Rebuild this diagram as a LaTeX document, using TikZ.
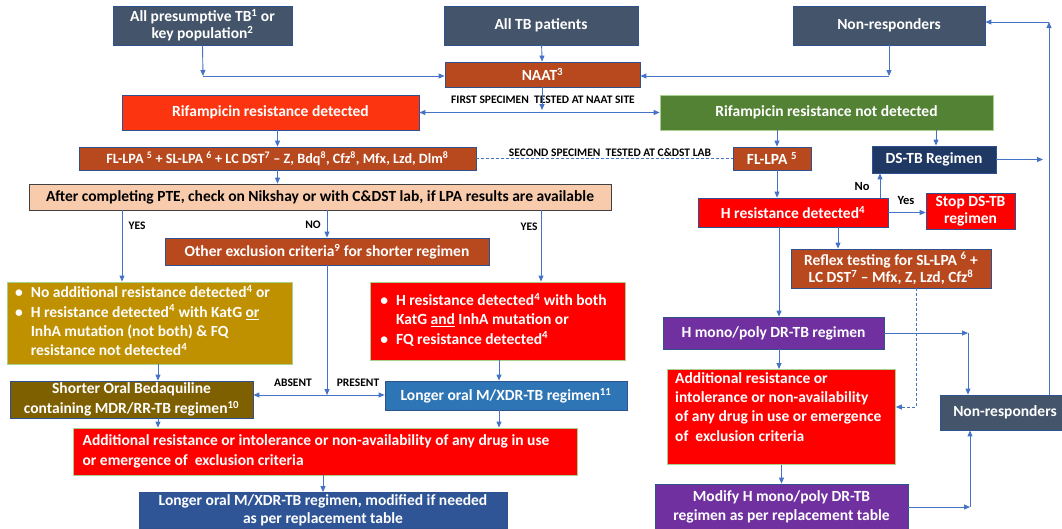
\documentclass[tikz,border=0pt]{standalone}
\usepackage{fontspec}
\setmainfont{Carlito}
\usetikzlibrary{arrows.meta, positioning}

\definecolor{slate}{RGB}{68,84,106}
\definecolor{rust}{RGB}{184,72,30}
\definecolor{rifred}{RGB}{252,52,16}
\definecolor{leaf}{RGB}{84,130,53}
\definecolor{navy}{RGB}{31,56,100}
\definecolor{peach}{RGB}{248,203,173}
\definecolor{gold}{RGB}{191,144,0}
\definecolor{olive}{RGB}{127,96,0}
\definecolor{alarm}{RGB}{255,0,0}
\definecolor{sky}{RGB}{46,117,182}
\definecolor{deepblue}{RGB}{47,85,151}
\definecolor{plum}{RGB}{112,48,160}
\definecolor{link}{RGB}{68,114,196}
\definecolor{edge}{RGB}{47,82,143}
\definecolor{mint}{RGB}{169,209,142}

\newcommand{\boxfont}{\fontsize{15.5}{19.3}\selectfont\bfseries}
\newcommand{\supr}[1]{\textsuperscript{#1}}

\begin{document}
\begin{tikzpicture}[x=1pt, y=-1pt,
    box/.style={draw=edge, line width=0.8pt, text=white, font=\boxfont, align=center, inner sep=1.5pt},
    greenedge/.style={draw=mint},
    arr/.style={draw=link, line width=0.9pt, -{Triangle[length=6pt,width=5pt]}},
    tag/.style={font=\fontsize{11.5}{13}\selectfont\bfseries, text=black, inner sep=1pt},
    yesno/.style={font=\fontsize{12.5}{14}\selectfont\bfseries, text=black, inner sep=1pt}]
    \useasboundingbox (0,0) rectangle (1062,528);

    % top row
    \node[box, fill=slate, minimum width=179pt, minimum height=39pt,
          font=\fontsize{15.5}{17}\selectfont\bfseries] (pres) at (202.5,25.5) {All presumptive TB\supr{1} or\\key population\supr{2}};
    \node[box, fill=slate, minimum width=194pt, minimum height=39pt] (allTB) at (541,25.5) {All TB patients};
    \node[box, fill=slate, minimum width=192pt, minimum height=39pt] (nonTop) at (889,25.5) {Non-responders};
    \node[box, fill=rust, minimum width=195pt, minimum height=25pt] (naat) at (542.5,74.5) {NAAT\supr{3}};

    % rifampicin results
    \node[box, fill=rifred, minimum width=297pt, minimum height=35pt] (rifD) at (270.5,112.5) {Rifampicin resistance detected};
    \node[box, greenedge, fill=leaf, minimum width=333pt, minimum height=35pt] (rifN) at (826.5,112.5) {Rifampicin resistance not detected};
    \node[tag] (first) at (543,100) {FIRST SPECIMEN\ \ TESTED AT NAAT SITE};

    % left branch
    \node[box, fill=rust, minimum width=397pt, minimum height=23pt,
          font=\fontsize{14.2}{17}\selectfont\bfseries] (lpa) at (277.5,158.5) {FL-LPA \supr{5} + SL-LPA \supr{6} + LC DST\supr{7} -- Z, Bdq\supr{8}, Cfz\supr{8}, Mfx, Lzd, Dlm\supr{8}};
    \node[tag] (second) at (610,153) {SECOND SPECIMEN\ \ TESTED AT C\&DST LAB};
    \node[box, draw=black!75, fill=peach, text=black, minimum width=582pt, minimum height=26pt] (pte) at (320,197) {After completing PTE, check on Nikshay or with C\&DST lab, if LPA results are available};
    \node[box, fill=rust, minimum width=324pt, minimum height=27pt] (other) at (327,251.5) {Other exclusion criteria\supr{9} for shorter regimen};
    \node[box, greenedge, fill=gold, minimum width=285pt, minimum height=82pt] (noAdd) at (149.5,323)
        {\begin{tabular}{@{}l@{\hspace{8pt}}l@{}}
         \textbullet & No additional resistance detected\supr{4} or\\
         \textbullet & H resistance detected\supr{4} with KatG \underline{or}\\
                     & InhA mutation (not both) \& FQ\\
                     & resistance not detected\supr{4}
         \end{tabular}\hspace*{14pt}};
    \node[box, greenedge, fill=alarm, minimum width=255pt, minimum height=78pt] (bothRes) at (497.5,321)
        {\begin{tabular}{@{}l@{\hspace{8pt}}l@{}}
         \textbullet & H resistance detected\supr{4} with both\\
                     & KatG \underline{and} InhA mutation or\\
         \textbullet & FQ resistance detected\supr{4}
         \end{tabular}\hspace*{8pt}};
    \node[box, fill=olive, minimum width=243pt, minimum height=37pt] (shortReg) at (131.5,399.5) {Shorter Oral Bedaquiline\\containing MDR/RR-TB regimen\supr{10}};
    \node[box, fill=sky, minimum width=242pt, minimum height=29pt] (longReg) at (506,395.5) {Longer oral M/XDR-TB regimen\supr{11}};
    \node[box, greenedge, fill=alarm, minimum width=504pt, minimum height=47pt, align=left] (addL) at (325,451.5)
        {Additional resistance or intolerance or non-availability of any drug in use\hspace*{18pt}\\or emergence of\ \ exclusion criteria};
    \node[box, fill=deepblue, minimum width=368pt, minimum height=36pt,
          font=\fontsize{15.5}{17.5}\selectfont\bfseries] (longMod) at (323,510.5) {Longer oral M/XDR-TB regimen, modified if needed\\as per replacement table};
    \node[tag] at (137,226) {YES};
    \node[tag] at (313,225) {NO};
    \node[tag] at (529,227) {YES};
    \node[tag] at (293,383) {ABSENT};
    \node[tag] at (358,383) {PRESENT};

    % right branch
    \node[box, fill=rust, minimum width=78pt, minimum height=23pt] (flR) at (772,158.5) {FL-LPA \supr{5}};
    \node[box, fill=navy, minimum width=124pt, minimum height=27pt] (dstb) at (934,159.5) {DS-TB Regimen};
    \node[box, fill=alarm, minimum width=190pt, minimum height=29pt] (hR) at (793,212.5) {H resistance detected\supr{4}};
    \node[box, fill=alarm, minimum width=89pt, minimum height=36pt,
          font=\fontsize{15.5}{17.5}\selectfont\bfseries] (stop) at (970.5,211) {Stop DS-TB\\regimen};
    \node[box, fill=rust, minimum width=200pt, minimum height=39pt,
          font=\fontsize{15.5}{17.5}\selectfont\bfseries] (reflex) at (891,268.5) {Reflex testing for SL-LPA \supr{6} +\\LC DST\supr{7} -- Mfx, Z, Lzd, Cfz\supr{8}};
    \node[box, fill=plum, minimum width=221pt, minimum height=32pt] (hmono) at (773.5,333) {H mono/poly DR-TB regimen};
    \node[box, greenedge, fill=alarm, minimum width=228pt, minimum height=95pt, anchor=north west] (addR) at (667,369) {};
    \node[text=white, font=\boxfont, align=left, anchor=north west, inner sep=0pt] (addRtext) at (675,372)
        {Additional resistance or\\intolerance or non-availability\\of any drug in use or emergence\\of\ \ exclusion criteria};
    \node[box, fill=plum, minimum width=253pt, minimum height=46pt] (modify) at (781.5,507) {Modify H mono/poly DR-TB\\regimen as per replacement table};
    \node[box, fill=slate, minimum width=130pt, minimum height=35pt] (nonR) at (1005,412.5) {Non-responders};
    \node[yesno] at (862,186) {No};
    \node[yesno] at (906,200) {Yes};

    % helper points
    \coordinate (c1) at (203,76);
    \coordinate (c2) at (889,76);
    \coordinate (c3) at (542,110);
    \coordinate (xYes) at (122,0);
    \coordinate (xNo) at (327,0);
    \coordinate (xYes2) at (541,0);
    \coordinate (xA) at (158,0);
    \coordinate (xB) at (499,0);
    \coordinate (xFl) at (777,0);
    \coordinate (xDs) at (936,0);
    \coordinate (xUp) at (880,0);
    \coordinate (xRf) at (838,0);
    \coordinate (xHm) at (779,0);
    \coordinate (split) at (327,395);
    \coordinate (d1) at (916,0);
    \coordinate (d2) at (916,407);
    \coordinate (m1) at (968,333);
    \coordinate (m2) at (970,507);
    \coordinate (r1) at (1049,22);
    \coordinate (r2) at (1043,159.5);

    % connectors
    \draw[arr] (pres.south) -- (c1);
    \draw[arr] (c1) -- (naat.west |- c1);
    \draw[arr] (allTB) -- (naat);
    \draw[arr] (nonTop.south) -- (c2);
    \draw[arr] (c2) -- (naat.east |- c2);
    \draw[arr] (naat.south -| c3) -- (c3);
    \draw[arr, {Triangle[length=6pt,width=5pt]}-{Triangle[length=6pt,width=5pt]}] (rifD.east) -- (rifN.west);
    \draw[arr] (rifD.south -| lpa) -- (lpa.north);
    \draw[arr] (lpa.south) -- (pte.north -| lpa);
    \draw[draw=link, line width=0.8pt, dash pattern=on 3pt off 2pt] (lpa.east) -- (flR.west);
    \draw[arr] (pte.south -| xYes) -- (noAdd.north -| xYes);
    \draw[arr] (pte.south -| xNo) -- (other.north -| xNo);
    \draw[arr] (pte.south -| xYes2) -- (bothRes.north -| xYes2);
    \draw[arr] (other.south -| xNo) -- (split);
    \draw[arr] (split) -- (shortReg.east |- split);
    \draw[arr] (split) -- (longReg.west |- split);
    \draw[arr] (noAdd.south -| xA) -- (shortReg.north -| xA);
    \draw[arr] (bothRes.south -| xB) -- (longReg.north -| xB);
    \draw[arr] (shortReg.south -| xA) -- (addL.north -| xA);
    \draw[arr] (longReg.south -| xB) -- (addL.north -| xB);
    \draw[arr] (addL.south -| longMod) -- (longMod.north);

    \draw[arr] (rifN.south -| xFl) -- (flR.north -| xFl);
    \draw[arr] (rifN.south -| xDs) -- (dstb.north -| xDs);
    \draw[arr] (flR.south -| xFl) -- (hR.north -| xFl);
    \draw[arr] (hR.north -| xUp) -- (dstb.south -| xUp);
    \draw[arr] (hR.east) -- (stop.west |- hR.east);
    \draw[arr] (hR.south -| xRf) -- (reflex.north -| xRf);
    \draw[arr] (hR.south -| xHm) -- (hmono.north -| xHm);
    \draw[arr, dash pattern=on 3pt off 2pt] (reflex.south -| d1) -- (d2) -- (addR.east |- d2);
    \draw[arr] (hmono.south -| xHm) -- (addR.north -| xHm);
    \draw[arr] (addR.south -| modify) -- (modify.north);
    \draw[arr] (hmono.east) -- (m1);
    \draw[arr] (m1) -- (nonR.north -| m1);
    \draw[arr] (modify.east |- m2) -- (m2);
    \draw[arr] (m2) -- (nonR.south -| m2);
    \draw[arr] (nonR.north -| r1) -- (r1);
    \draw[arr] (r1) -- (nonTop.east |- r1);
    \draw[arr] (dstb.east) -- (r2);
\end{tikzpicture}
\end{document}
